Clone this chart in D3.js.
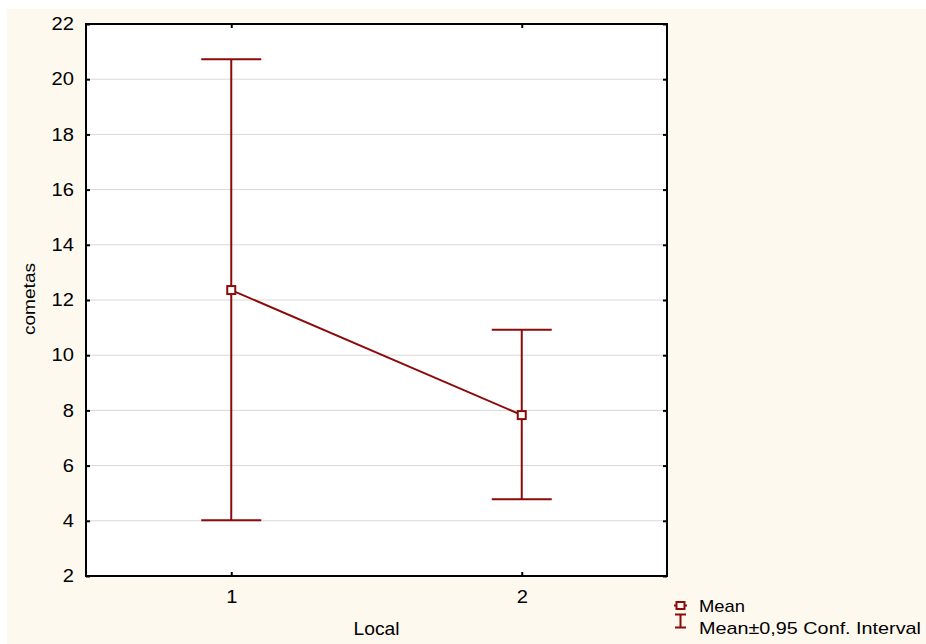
<!DOCTYPE html>
<html>
<head>
<meta charset="utf-8">
<script src="https://cdn.jsdelivr.net/npm/d3@7"></script>
<style>
  html, body { margin: 0; padding: 0; background: #fff; }
  svg { display: block; }
  text { font-family: "Liberation Sans", Arial, sans-serif; fill: #000; }
</style>
</head>
<body>
<svg id="chart" width="926" height="644"></svg>
<script>
// Means and 95% CI by Local
const categories = [1, 2];
const means = [12.36, 7.83];
const upper = [20.72, 10.92];
const lower = [4.02, 4.78];
const yTicks = [2, 4, 6, 8, 10, 12, 14, 16, 18, 20, 22];

const color = '#8b0a0a';
const cream = '#fef9ef';
const svg = d3.select('#chart');

// cream panel
svg.append('rect').attr('x', 7).attr('y', 9).attr('width', 919).attr('height', 635).attr('fill', cream);

const margin = { left: 86, top: 24, right: 667, bottom: 576 };
const x = d3.scaleLinear().domain([0.5, 2.5]).range([margin.left, margin.right]);
const y = d3.scaleLinear().domain([2, 22]).range([margin.bottom, margin.top]);

svg.append('rect')
  .attr('x', margin.left).attr('y', margin.top)
  .attr('width', margin.right - margin.left).attr('height', margin.bottom - margin.top)
  .attr('fill', '#fff');

// grid
svg.append('g').selectAll('line').data(yTicks.slice(1, -1)).enter().append('line')
  .attr('x1', margin.left).attr('x2', margin.right)
  .attr('y1', d => y(d)).attr('y2', d => y(d))
  .attr('stroke', '#d8d8d8').attr('stroke-width', 1);

// axes with inward ticks; labels slightly widened like the original
const stretch = 1.12;
const axisStyle = g => {
  g.attr('font-size', null).attr('font-family', null);
  g.select('.domain').remove();
  g.selectAll('line').attr('stroke', '#000').attr('stroke-width', 2);
  g.selectAll('text').style('font-size', '18px').attr('fill', '#000')
    .each(function() {
      const t = d3.select(this);
      const tx = +t.attr('x') || 0;
      const ty = +t.attr('y') || 0;
      t.attr('x', 0).attr('y', 0).attr('transform', `translate(${tx},${ty}) scale(${stretch},1)`);
    });
};
svg.append('g').attr('transform', `translate(${margin.left},0)`)
  .call(d3.axisLeft(y).tickValues(yTicks).tickSize(-4).tickPadding(12).tickFormat(d3.format('d')))
  .call(axisStyle);
svg.append('g').attr('transform', `translate(${margin.right},0)`)
  .call(d3.axisRight(y).tickValues(yTicks).tickSize(-4).tickFormat(''))
  .call(axisStyle);
svg.append('g').attr('transform', `translate(0,${margin.bottom})`)
  .call(d3.axisBottom(x).tickValues(categories).tickSize(-4).tickPadding(14).tickFormat(d3.format('d')))
  .call(axisStyle);
svg.append('g').attr('transform', `translate(0,${margin.top})`)
  .call(d3.axisTop(x).tickValues(categories).tickSize(-4).tickFormat(''))
  .call(axisStyle);

// frame
svg.append('rect')
  .attr('x', margin.left).attr('y', margin.top)
  .attr('width', margin.right - margin.left).attr('height', margin.bottom - margin.top)
  .attr('fill', 'none').attr('stroke', '#000').attr('stroke-width', 2);

// error bars
const rows = categories.map((c, i) => ({ c, m: means[i], hi: upper[i], lo: lower[i] }));
const capHalf = 30;
const eb = svg.append('g').attr('stroke', color).attr('stroke-width', 2);
rows.forEach(d => {
  eb.append('line').attr('x1', x(d.c)).attr('x2', x(d.c)).attr('y1', y(d.hi)).attr('y2', y(d.lo));
  eb.append('line').attr('x1', x(d.c) - capHalf).attr('x2', x(d.c) + capHalf).attr('y1', y(d.hi)).attr('y2', y(d.hi));
  eb.append('line').attr('x1', x(d.c) - capHalf).attr('x2', x(d.c) + capHalf).attr('y1', y(d.lo)).attr('y2', y(d.lo));
});

// mean line + markers
svg.append('path')
  .attr('d', d3.line().x(d => x(d.c)).y(d => y(d.m))(rows))
  .attr('fill', 'none').attr('stroke', color).attr('stroke-width', 2);
svg.append('g').selectAll('rect').data(rows).enter().append('rect')
  .attr('x', d => x(d.c) - 4).attr('y', d => y(d.m) - 4)
  .attr('width', 8).attr('height', 8)
  .attr('fill', '#fff').attr('stroke', color).attr('stroke-width', 2);

// axis titles
svg.append('text').attr('transform', `translate(35,299) rotate(-90)`)
  .attr('text-anchor', 'middle').style('font-size', '17px')
  .attr('textLength', 72).attr('lengthAdjust', 'spacingAndGlyphs').text('cometas');
svg.append('text').attr('x', (margin.left + margin.right) / 2).attr('y', 635)
  .attr('text-anchor', 'middle').style('font-size', '17.5px')
  .attr('textLength', 46).attr('lengthAdjust', 'spacingAndGlyphs').text('Local');

// legend
const lg = svg.append('g').attr('stroke', color).attr('stroke-width', 2).attr('fill', 'none');
lg.append('line').attr('x1', 674).attr('x2', 687).attr('y1', 605.5).attr('y2', 605.5);
lg.append('rect').attr('x', 676.5).attr('y', 602).attr('width', 8).attr('height', 7).attr('fill', cream);
lg.append('line').attr('x1', 680.5).attr('x2', 680.5).attr('y1', 614.5).attr('y2', 627.5);
lg.append('line').attr('x1', 675).attr('x2', 686).attr('y1', 614.5).attr('y2', 614.5);
lg.append('line').attr('x1', 675).attr('x2', 686).attr('y1', 627.5).attr('y2', 627.5);
svg.append('text').attr('x', 699).attr('y', 612).style('font-size', '17px')
  .attr('textLength', 46).attr('lengthAdjust', 'spacingAndGlyphs').text('Mean');
svg.append('text').attr('x', 699).attr('y', 634).style('font-size', '17px')
  .attr('textLength', 222).attr('lengthAdjust', 'spacingAndGlyphs').text('Mean±0,95 Conf. Interval');
</script>
</body>
</html>
